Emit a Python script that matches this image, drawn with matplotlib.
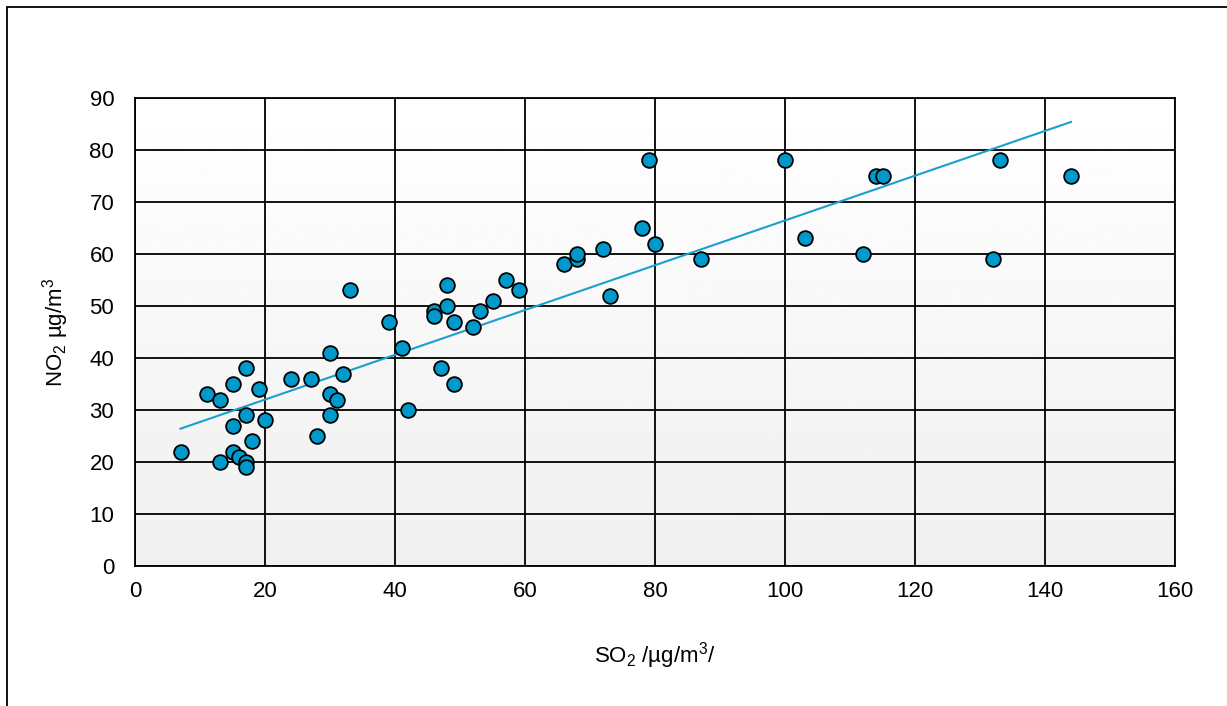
import numpy as np
import matplotlib
matplotlib.use("Agg")
import matplotlib.pyplot as plt
from matplotlib.patches import Rectangle

plt.rcParams['font.family'] = ['Liberation Sans', 'DejaVu Sans']
plt.rcParams['mathtext.fontset'] = 'custom'
plt.rcParams['mathtext.rm'] = 'Liberation Sans'
plt.rcParams['mathtext.it'] = 'Liberation Sans'
plt.rcParams['mathtext.default'] = 'regular'

so2 = [7, 11, 13, 13, 15, 15, 15, 16, 17, 17, 17, 17, 18, 19, 20, 24, 27, 28, 30, 30,
       30, 31, 32, 33, 39, 41, 42, 46, 46, 47, 48, 48, 49, 49, 52, 53, 55, 57, 59, 66,
       68, 68, 72, 73, 78, 79, 80, 87, 100, 103, 112, 114, 115, 132, 133, 144]
no2 = [22, 33, 32, 20, 35, 27, 22, 21, 38, 29, 20, 19, 24, 34, 28, 36, 36, 25, 41, 33,
       29, 32, 37, 53, 47, 42, 30, 49, 48, 38, 54, 50, 47, 35, 46, 49, 51, 55, 53, 58,
       59, 60, 61, 52, 65, 78, 62, 59, 78, 63, 60, 75, 75, 59, 78, 75]

x_ticks = [0, 20, 40, 60, 80, 100, 120, 140, 160]
y_ticks = [0, 10, 20, 30, 40, 50, 60, 70, 80, 90]

fig = plt.figure(figsize=(12.27, 7.06), dpi=100)
ax = fig.add_axes([135/1227, 140/706, 1040/1227, 468/706])

# light vertical gradient behind the plot area
grad = np.linspace(1.0, 0.94, 256).reshape(-1, 1)
ax.imshow(grad, cmap='gray', vmin=0, vmax=1, aspect='auto',
          extent=[0, 160, 0, 90], origin='upper', zorder=0)

ax.set_xlim(0, 160)
ax.set_ylim(0, 90)
ax.set_xticks(x_ticks)
ax.set_yticks(y_ticks)
ax.grid(True, color='black', linewidth=1.3, zorder=1)
ax.set_axisbelow(True)
for s in ax.spines.values():
    s.set_linewidth(1.3)
ax.tick_params(length=0, labelsize=16)
ax.tick_params(axis='y', pad=15)
ax.tick_params(axis='x', pad=11)

# linear trend line
k, b = np.polyfit(so2, no2, 1)
xs = np.array([min(so2), max(so2)])
ax.plot(xs, k*xs + b, color='#1a9fd0', linewidth=1.5, zorder=2)

ax.scatter(so2, no2, s=112, facecolor='#0099cc', edgecolor='black',
           linewidth=1.3, zorder=3, clip_on=False)

ax.set_xlabel('SO$_2$ /µg/m$^3$/', fontsize=16, labelpad=27)
ax.set_ylabel('NO$_2$ µg/m$^3$', fontsize=16, labelpad=13)

fig.patches.append(Rectangle((7/1227, -0.1), 1.2, (706-7)/706 + 0.1,
                             transform=fig.transFigure, fill=False,
                             edgecolor='black', linewidth=1.3))

fig.savefig('out.png', dpi=100)
